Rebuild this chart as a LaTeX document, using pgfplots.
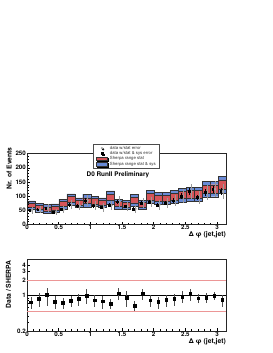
\documentclass[border=0pt]{standalone}
\usepackage{pgfplots}
\usepackage{pgfplotstable}
\pgfplotsset{compat=1.18}
\usepackage{fontspec}
\setmainfont{TeX Gyre Heros}
\usetikzlibrary{shadows}
\definecolor{bandred}{RGB}{214,84,88}
\definecolor{bandblue}{RGB}{104,138,214}
\definecolor{linered}{RGB}{236,150,150}

% Sherpa bands: stacked pieces (blue low edge, blue->red low, red range, red high->blue high)
\pgfplotstableread{
x      s0  s1  s2  s3
0.0628 53  7   16  7
0.1885 45  8   14  8
0.3142 40  8   14  8
0.4398 43  8   14  8
0.5655 55  8   18  8
0.6912 68  9   22  9
0.8168 60  8   18  8
0.9425 61  13  20  13
1.0681 65  7   20  7
1.1938 62  7   18  7
1.3195 72  12  22  12
1.4451 55  8   18  8
1.5708 54  8   16  8
1.6965 66  10  20  10
1.8221 54  8   16  8
1.9478 74  11  24  11
2.0735 71  10  22  10
2.1991 71  10  22  10
2.3248 76  10  24  10
2.4504 80  12  24  12
2.5761 83  11  26  11
2.7018 83  11  26  11
2.8274 97  12  30  12
2.9531 98  12  30  12
3.0788 110 13  34  13
}\sherpa

% data: counts, stat error, stat&sys error (drawn), ratio, ratio error
\pgfplotstableread{
x      d   es  eb  r     re
0.0628 50  13  5   0.74  0.20
0.1885 52  13  5   0.86  0.25
0.3142 57  14  6   1.03  0.40
0.4398 44  11  5   0.76  0.22
0.5655 53  13  5   0.73  0.18
0.6912 70  17  7   0.80  0.20
0.8168 66  16  7   0.86  0.24
0.9425 84  20  8   1.00  0.33
1.0681 66  16  7   0.81  0.22
1.1938 60  15  6   0.77  0.22
1.3195 67  16  7   0.70  0.15
1.4451 80  19  8   1.11  0.30
1.5708 64  16  6   0.91  0.30
1.6965 55  14  6   0.64  0.15
1.8221 76  18  8   1.08  0.25
1.9478 79  19  8   0.81  0.20
2.0735 69  17  7   0.75  0.20
2.1991 76  18  8   0.83  0.22
2.3248 84  20  8   0.86  0.24
2.4504 100 24  10  0.96  0.25
2.5761 116 27  11  1.08  0.30
2.7018 95  23  9   0.89  0.18
2.8274 113 26  11  0.91  0.20
2.9531 124 28  12  0.99  0.18
3.0788 116 27  11  0.83  0.22
}\data

\pgfplotsset{
  common/.style={
    scale only axis, width=199bp, xmin=0, xmax=3.1416,
    axis line style={line width=0.5bp, black!85},
    tick align=inside, xtick pos=bottom, ytick pos=left,
    major tick length=3bp, minor tick length=1.6bp,
    every tick/.style={line width=0.4bp, black},
    xtick={0,0.5,1,1.5,2,2.5,3},
    xticklabels={0,0.5,1,1.5,2,2.5,3},
    minor x tick num=4,
    /pgf/number format/assume math mode=true,
    ticklabel style={font=\fontsize{6.2}{7}\selectfont\bfseries},
    xticklabel style={inner sep=0.8pt},
    yticklabel style={inner sep=1pt},
    label style={font=\fontsize{6.8}{7.5}\selectfont\bfseries},
    xlabel={Δ φ (jet,jet)},
    xlabel style={at={(axis description cs:1,-0.1)}, anchor=north east, inner sep=0pt},
  }
}

\begin{document}
\begin{tikzpicture}
\useasboundingbox (0,0) rectangle (273bp,-353bp);

% band axis (hidden)
\begin{axis}[scale only axis, width=199bp, height=71bp, xmin=0, xmax=3.1416,
  ymin=0, ymax=250, hide axis, ybar stacked, bar width=0.12566,
  at={(27bp,-224.5bp)}, anchor=south west]
\addplot[draw=none, fill=none] table[x=x,y=s0] \sherpa;
\addplot[fill=bandblue, draw=black!80, line width=0.3bp] table[x=x,y=s1] \sherpa;
\addplot[fill=bandred, draw=black!80, line width=0.3bp] table[x=x,y=s2] \sherpa;
\addplot[fill=bandblue, draw=black!80, line width=0.3bp] table[x=x,y=s3] \sherpa;
\end{axis}

% top main axis
\begin{axis}[common, height=71bp, ymin=0, ymax=250,
  ytick={0,50,100,150,200,250}, yticklabels={0,50,100,150,200,250},
  minor y tick num=4,
  at={(27bp,-224.5bp)}, anchor=south west,
  ylabel={Nr. of Events},
  ylabel style={at={(axis description cs:-0.09,1.09)}, anchor=east, inner sep=0pt},
  legend cell align=left,
  legend style={at={(axis description cs:0.332,1.134)}, anchor=north west,
    font=\fontsize{4.3}{4.8}\selectfont, text=black!80, draw=black!70, line width=0.4bp,
    inner xsep=3bp, inner ysep=1.3bp, row sep=0pt, column sep=2bp, fill=white,
    nodes={inner sep=0.4bp, text height=3.4bp, text depth=1.1bp},
    drop shadow={shadow xshift=1.2bp, shadow yshift=-1.2bp, fill=black!75, opacity=1}},
]
\addlegendimage{legend image code/.code={\fill[black!35] (5.5bp,0) circle (0.9bp);}}
\addlegendentry{data w/stat error}
\addlegendimage{legend image code/.code={\fill[black] (4.6bp,-0.9bp) rectangle (6.4bp,0.9bp);}}
\addlegendentry{data w/stat \& sys error}
\addlegendimage{legend image code/.code={\draw[fill=bandred, draw=black!80, line width=0.3bp] (0,-1.7bp) rectangle (11bp,1.7bp);}}
\addlegendentry{Sherpa range stat}
\addlegendimage{legend image code/.code={\draw[fill=bandblue, draw=black!80, line width=0.3bp] (0,-1.7bp) rectangle (11bp,1.7bp);}}
\addlegendentry{Sherpa range stat \& sys}

\addplot[forget plot, only marks, mark=*, mark size=1.1bp, black!35,
  error bars/.cd, y dir=both, y explicit, error mark=none,
  error bar style={line width=0.6bp, black!40}]
  table[x expr=\thisrow{x}+0.015, y=d, y error=es] \data;
\addplot[forget plot, only marks, mark=square*, mark size=0.9bp, black,
  error bars/.cd, y dir=both, y explicit, error mark=none,
  error bar style={line width=0.5bp, black}]
  table[x expr=\thisrow{x}-0.02, y=d, y error=eb] \data;

\node[font=\fontsize{6.4}{7}\selectfont\bfseries] at (axis description cs:0.457,0.697) {D0 RunII Preliminary};
\end{axis}

% ratio axis
\begin{axis}[common, height=72bp, ymode=log, ymin=0.2, ymax=5.3,
  ytick={0.2,1,2,3,4}, yticklabels={0.2,1,2,3,4},
  minor ytick={0.3,0.4,0.5,0.6,0.7,0.8,0.9},
  at={(27bp,-331bp)}, anchor=south west,
  ylabel={Data / SHERPA},
  ylabel style={at={(axis description cs:-0.093,0.986)}, anchor=east, inner sep=0pt},
  xlabel style={at={(axis description cs:1,-0.104)}},
]
\addplot[linered, line width=0.6bp] coordinates {(0,2) (3.1416,2)};
\addplot[linered, line width=0.6bp] coordinates {(0,0.5) (3.1416,0.5)};
\addplot[black, line width=0.5bp] coordinates {(0,1) (3.1416,1)};
\addplot[only marks, mark=square*, mark size=1.3bp, black,
  error bars/.cd, y dir=both, y explicit, error mark=none,
  error bar style={line width=0.5bp, black!70}]
  table[x=x, y=r, y error=re] \data;
\end{axis}
\end{tikzpicture}
\end{document}
